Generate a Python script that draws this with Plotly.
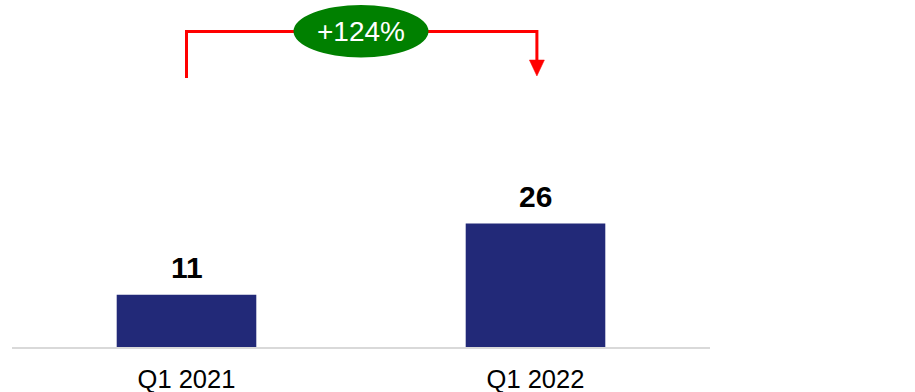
import plotly.graph_objects as go

# Quarterly values shown as bars
categories = ["Q1 2021", "Q1 2022"]
values = [11, 26]
change_label = "+124%"

BAR_COLOR = "#222978"
FONT = "Liberation Sans, Arial, sans-serif"

W, H = 915, 392
M_L, M_R, M_T, M_B = 12, 205, 0, 45
PLOT_H = H - M_T - M_B

x_pos = list(range(len(categories)))

fig = go.Figure()
fig.add_trace(go.Bar(
    x=x_pos,
    y=values,
    width=0.4,
    marker=dict(color=BAR_COLOR, line=dict(width=0)),
    hoverinfo="skip",
))

# Value labels above each bar
for xi, v in zip(x_pos, values):
    fig.add_annotation(
        x=xi, y=v, xref="x", yref="y",
        text=f"<b>{v}</b>", showarrow=False,
        yanchor="bottom", yshift=9,
        font=dict(family=FONT, size=30, color="#000000"),
    )

# Growth bracket between the two bars (y in paper units of the plot area)
def py(px):
    return 1 - px / PLOT_H

bracket_y = py(31.5)
left_bottom = py(78)
arrow_base = py(60)
arrow_tip = py(76)
x_a, x_b = x_pos[0], x_pos[1] + 0.004
red = "#ff0000"

fig.add_shape(type="path",
              path=f"M {x_a},{left_bottom} L {x_a},{bracket_y} L {x_b},{bracket_y} L {x_b},{arrow_base}",
              xref="x", yref="paper", line=dict(color=red, width=3))
half = 7.5 / 349
fig.add_shape(type="path",
              path=f"M {x_b - half},{arrow_base} L {x_b + half},{arrow_base} L {x_b},{arrow_tip} Z",
              xref="x", yref="paper", fillcolor=red, line=dict(color=red, width=0.5))

mid = (x_pos[0] + x_pos[1]) / 2
ew = 135 / 349 / 2
fig.add_shape(type="circle", xref="x", yref="paper",
              x0=mid - ew, x1=mid + ew, y0=py(57.5), y1=py(5),
              fillcolor="#008000", line=dict(color="#008000", width=0))
fig.add_annotation(x=mid, y=py(31.5), xref="x", yref="paper",
                   text=change_label, showarrow=False,
                   xanchor="center", yanchor="middle",
                   font=dict(family=FONT, size=28, color="#ffffff"))

fig.update_layout(
    width=W, height=H,
    margin=dict(l=M_L, r=M_R, t=M_T, b=M_B, pad=0),
    paper_bgcolor="#ffffff", plot_bgcolor="#ffffff",
    showlegend=False,
    bargap=0.6,
    font=dict(family=FONT, color="#000000"),
)
fig.update_xaxes(
    range=[-0.5, 1.5],
    tickvals=x_pos, ticktext=categories,
    tickfont=dict(family=FONT, size=25.5, color="#000000"),
    showgrid=False, zeroline=False,
    showline=True, linecolor="#d9d9d9", linewidth=2,
    ticks="", ticklabelstandoff=8,
)
fig.update_yaxes(
    range=[0, PLOT_H / 4.75],
    visible=False, showgrid=False, zeroline=False,
)

fig.write_html("out.html", config={"displayModeBar": False})
